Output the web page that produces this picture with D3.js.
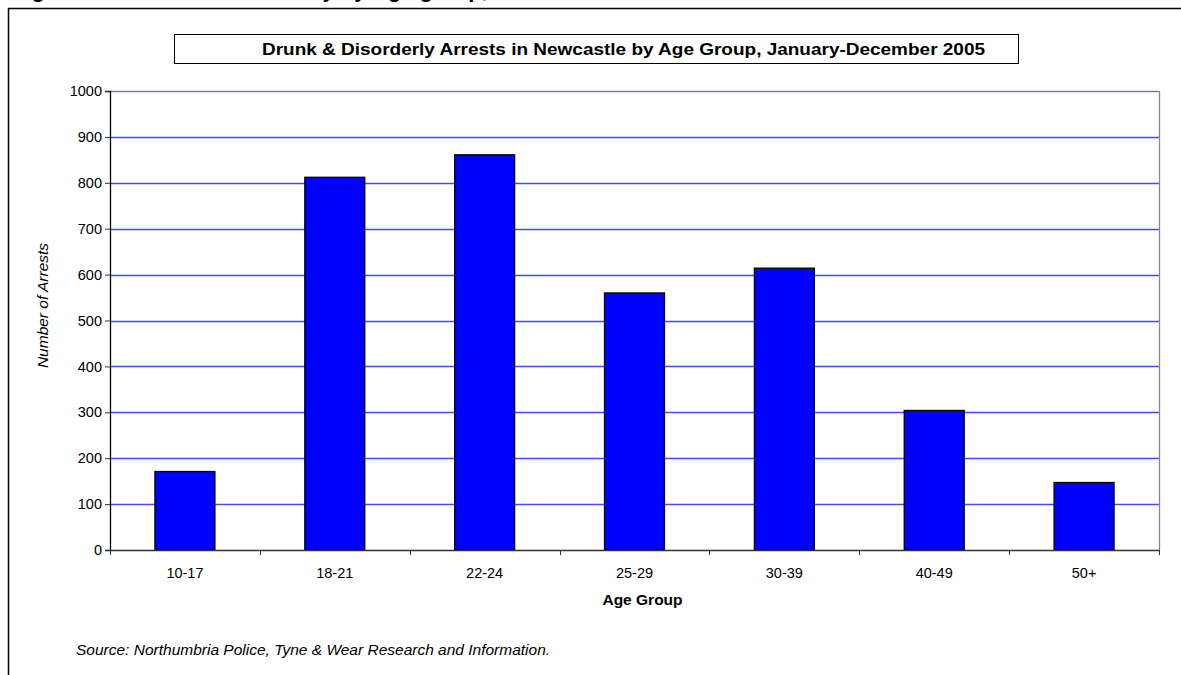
<!DOCTYPE html>
<html>
<head>
<meta charset="utf-8">
<script src="https://d3js.org/d3.v7.min.js"></script>
<style>
  body { margin: 0; background: #fff; }
  text { font-family: "Liberation Sans", Arial, sans-serif; }
</style>
</head>
<body>
<div id="chart"></div>
<script>
// Drunk & disorderly arrests by age group

var ageGroups = ["10-17", "18-21", "22-24", "25-29", "30-39", "40-49", "50+"];
var arrests = [171, 812, 861, 560, 614, 304, 147];
var yTicks = [0, 100, 200, 300, 400, 500, 600, 700, 800, 900, 1000];

var W = 1181, H = 675;
var margin = {top: 91, right: 22, bottom: 125, left: 110},
    width = W - margin.left - margin.right,
    height = H - margin.top - margin.bottom;

var svg = d3.select("#chart")
  .append("svg")
    .attr("width", W)
    .attr("height", H);

// cut-off figure heading at the very top
svg.append("text")
  .attr("x", 12)
  .attr("y", -3)
  .attr("font-size", 22)
  .attr("font-weight", "bold")
  .text("Figure 3: Drunk and Disorderly by Age group, 2005");

// outer frame (runs off right and bottom)
svg.append("rect")
  .attr("x", 8.5).attr("y", 8.5)
  .attr("width", W + 20).attr("height", H + 20)
  .attr("fill", "none")
  .attr("stroke", "#000")
  .attr("stroke-width", 1.5);

// title box
svg.append("rect")
  .attr("x", 174.5).attr("y", 34.5)
  .attr("width", 844).attr("height", 29)
  .attr("fill", "#fff")
  .attr("stroke", "#000");
svg.append("text")
  .attr("x", 262).attr("y", 55)
  .attr("font-size", 17)
  .attr("font-weight", "bold")
  .attr("textLength", 723)
  .attr("lengthAdjust", "spacingAndGlyphs")
  .text("Drunk & Disorderly Arrests in Newcastle by Age Group, January-December 2005");

var g = svg.append("g")
  .attr("transform", "translate(" + margin.left + "," + margin.top + ")");

var x = d3.scaleBand()
  .domain(ageGroups)
  .range([0, width])
  .paddingInner(0.6)
  .paddingOuter(0.3);

var y = d3.scaleLinear()
  .domain([0, 1000])
  .range([height, 0]);

// gridlines
g.selectAll(".grid")
  .data(yTicks.filter(function(d) { return d > 0; }))
  .enter()
  .append("line")
    .attr("class", "grid")
    .attr("x1", 0)
    .attr("x2", width)
    .attr("y1", function(d) { return Math.round(y(d)) + 0.5; })
    .attr("y2", function(d) { return Math.round(y(d)) + 0.5; })
    .attr("stroke", function(d) { return d == 1000 ? "#8080a8" : "#4848ff"; })
    .attr("stroke-width", 1.3);

// right edge of plot area
g.append("line")
  .attr("x1", width + 0.5).attr("x2", width + 0.5)
  .attr("y1", 0).attr("y2", height)
  .attr("stroke", "#888")
  .attr("stroke-width", 1.3);

// bars
g.selectAll(".bar")
  .data(arrests)
  .enter()
  .append("rect")
    .attr("class", "bar")
    .attr("x", function(d, i) { return x(ageGroups[i]); })
    .attr("y", function(d) { return y(d); })
    .attr("width", x.bandwidth())
    .attr("height", function(d) { return height - y(d); })
    .attr("fill", "#0000ff")
    .attr("stroke", "#000")
    .attr("stroke-width", 1.3);

// y axis
var yAxis = g.append("g")
  .call(d3.axisLeft(y).tickValues(yTicks).tickFormat(d3.format("d")).tickSize(5).tickPadding(3));
yAxis.select(".domain").attr("stroke", "#000").attr("stroke-width", 1.3);
yAxis.selectAll(".tick line").attr("stroke", "#333");
yAxis.selectAll("text").attr("font-size", 14.5).attr("fill", "#000")
  .style("font-family", "Liberation Sans, Arial, sans-serif");

// x axis with ticks between categories
var xAxis = g.append("g")
  .attr("transform", "translate(0," + height + ")");
xAxis.append("line")
  .attr("x1", 0).attr("x2", width)
  .attr("y1", 0.5).attr("y2", 0.5)
  .attr("stroke", "#333").attr("stroke-width", 1.3);
xAxis.selectAll(".xtick")
  .data(d3.range(ageGroups.length + 1))
  .enter()
  .append("line")
    .attr("x1", function(i) { return Math.round(i * width / ageGroups.length) + 0.5; })
    .attr("x2", function(i) { return Math.round(i * width / ageGroups.length) + 0.5; })
    .attr("y1", 0).attr("y2", 5)
    .attr("stroke", "#333");
xAxis.selectAll(".xlabel")
  .data(ageGroups)
  .enter()
  .append("text")
    .attr("x", function(d) { return x(d) + x.bandwidth() / 2; })
    .attr("y", 28)
    .attr("text-anchor", "middle")
    .attr("font-size", 14.5)
    .text(function(d) { return d; });

// axis titles
svg.append("text")
  .attr("x", margin.left + width / 2 + 8)
  .attr("y", 605)
  .attr("text-anchor", "middle")
  .attr("font-size", 15.5)
  .attr("font-weight", "bold")
  .text("Age Group");

svg.append("text")
  .attr("transform", "translate(48," + (margin.top + height / 2 - 15) + ") rotate(-90)")
  .attr("text-anchor", "middle")
  .attr("font-size", 15.5)
  .attr("font-style", "italic")
  .text("Number of Arrests");

// source note
svg.append("text")
  .attr("x", 76)
  .attr("y", 655)
  .attr("font-size", 15.5)
  .attr("font-style", "italic")
  .text("Source: Northumbria Police, Tyne & Wear Research and Information.");
</script>
</body>
</html>
